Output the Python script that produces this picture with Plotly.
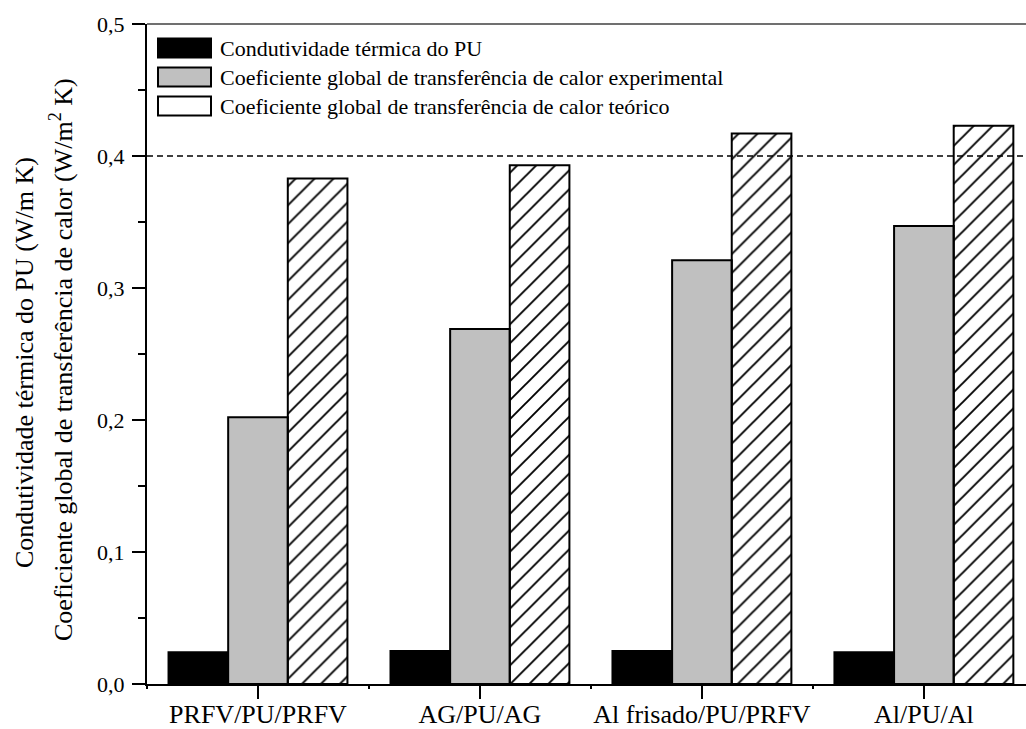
import plotly.graph_objects as go

# Sample panels (sandwich configurations)
categories = ["PRFV/PU/PRFV", "AG/PU/AG", "Al frisado/PU/PRFV", "Al/PU/Al"]

# Thermal conductivity of the PU core (W/m K)
k_pu = [0.024, 0.025, 0.025, 0.024]
# Overall heat transfer coefficient, experimental (W/m2 K)
u_exp = [0.202, 0.269, 0.321, 0.347]
# Overall heat transfer coefficient, theoretical (W/m2 K)
u_teo = [0.383, 0.393, 0.417, 0.423]

series_names = [
    "Condutividade térmica do PU",
    "Coeficiente global de transferência de calor experimental",
    "Coeficiente global de transferência de calor teórico",
]

y_ticks = [0.0, 0.1, 0.2, 0.3, 0.4, 0.5]
reference_level = 0.4

FONT = "Times New Roman, Liberation Serif, Tinos, serif"
W, H = 1026, 729
L, R, T, B = 147, 0, 24, 45
PW, PH = W - L - R, H - T - B

HATCH = dict(shape="/", size=13.4, solidity=0.14,
             fgcolor="black", bgcolor="rgba(255,255,255,0)")

x_idx = list(range(len(categories)))

fig = go.Figure()

fig.add_trace(go.Bar(
    x=x_idx, y=k_pu, name=series_names[0],
    marker=dict(color="black", line=dict(color="black", width=2)),
))
fig.add_trace(go.Bar(
    x=x_idx, y=u_exp, name=series_names[1],
    marker=dict(color="#c0c0c0", line=dict(color="black", width=2)),
))
fig.add_trace(go.Bar(
    x=x_idx, y=u_teo, name=series_names[2],
    marker=dict(color="rgba(255,255,255,0)",
                line=dict(color="black", width=2), pattern=HATCH),
))

# Legend swatches drawn as a small bar chart on an overlay axis pair
def px_x(p):
    return (p - L) / PW

def px_y(p):
    return (H - B - p) / PH

fig.add_trace(go.Bar(
    x=[1, 1, 1], y=[0, 1, 2], base=0, orientation="h", width=0.655,
    xaxis="x2", yaxis="y2", showlegend=False, hoverinfo="skip",
    marker=dict(
        color=["black", "#c0c0c0", "white"],
        line=dict(color="black", width=2),
        pattern=dict(shape=["", "", "/"], size=13.4, solidity=0.14,
                     fgcolor="black", bgcolor="white"),
    ),
))

for i, name in enumerate(series_names):
    fig.add_annotation(
        x=1.1, y=i, xref="x2", yref="y2", text=name, showarrow=False,
        xanchor="left", yanchor="middle", xshift=2,
        font=dict(family=FONT, size=22, color="black"),
    )

# Two-line y axis title
fig.add_annotation(
    x=0, y=0.5, xref="paper", yref="paper", xshift=-123, yshift=-9,
    text="Condutividade térmica do PU (W/m K)", textangle=-90,
    showarrow=False, xanchor="center", yanchor="middle",
    font=dict(family=FONT, size=26, color="black"),
)
fig.add_annotation(
    x=0, y=0.5, xref="paper", yref="paper", xshift=-86, yshift=-6,
    text="Coeficiente global de transferência de calor (W/m<sup>2</sup> K)",
    textangle=-90, showarrow=False, xanchor="center", yanchor="middle",
    font=dict(family=FONT, size=26, color="black"),
)

# Dashed reference line and top frame
fig.add_shape(type="line", xref="paper", yref="y", x0=0, x1=1,
              y0=reference_level, y1=reference_level,
              line=dict(color="black", width=1.3, dash="6px,4px"), layer="above")
fig.add_shape(type="line", xref="paper", yref="paper", x0=0, x1=1, y0=1, y1=1,
              line=dict(color="#707070", width=2), layer="above")

fig.update_layout(
    template="none",
    width=W, height=H,
    margin=dict(l=L, r=R, t=T, b=B, autoexpand=False),
    paper_bgcolor="white", plot_bgcolor="white",
    barmode="group", bargap=0.194, bargroupgap=0,
    showlegend=False,
    separators=",.",
    font=dict(family=FONT, color="black"),
    xaxis=dict(
        range=[-0.5, 3.46], tickvals=x_idx, ticktext=categories,
        automargin=False,
        showgrid=False, zeroline=False,
        showline=True, linecolor="black", linewidth=2,
        ticks="outside", ticklen=13, tickwidth=2, tickcolor="black",
        ticklabelstandoff=-7,
        tickfont=dict(family=FONT, size=26, color="black"),
        minor=dict(tick0=0.5, dtick=1, ticks="outside", ticklen=3,
                   tickwidth=2, tickcolor="black", showgrid=False),
    ),
    yaxis=dict(
        range=[0, 0.5], tickvals=y_ticks, tickformat=".1f",
        automargin=False,
        showgrid=False, zeroline=False,
        showline=True, linecolor="black", linewidth=2,
        ticks="outside", ticklen=13, tickwidth=2, tickcolor="black",
        ticklabelstandoff=3,
        tickfont=dict(family=FONT, size=22, color="black"),
        minor=dict(dtick=0.05, ticks="outside", ticklen=7,
                   tickwidth=2, tickcolor="black", showgrid=False),
    ),
    xaxis2=dict(domain=[px_x(152.7), px_x(216.3)], range=[-0.1, 1.1],
                anchor="y2", visible=False, fixedrange=True),
    yaxis2=dict(domain=[px_y(120.5), px_y(33.5)], range=[2.5, -0.5],
                anchor="x2", visible=False, fixedrange=True),
)

fig.write_html("out.html")
